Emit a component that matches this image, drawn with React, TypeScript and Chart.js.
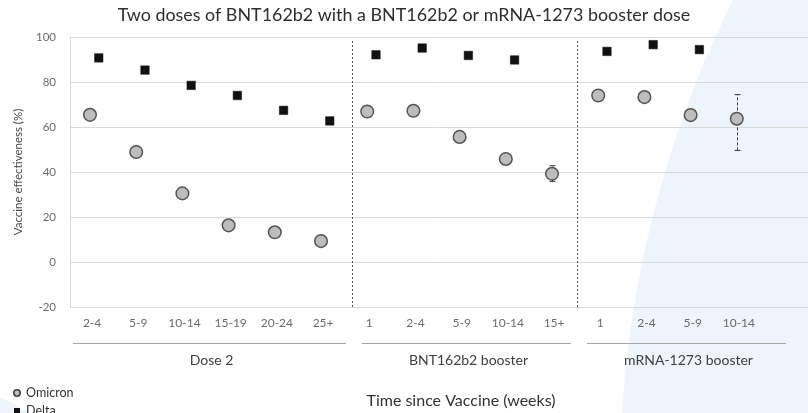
import React, { useEffect, useRef } from 'react';
import { Chart, registerables } from 'chart.js';

Chart.register(...registerables);

// ---------- data ----------
const chartTitle = 'Two doses of BNT162b2 with a BNT162b2 or mRNA-1273 booster dose';
const xTitle = 'Time since Vaccine (weeks)';
const yTitle = 'Vaccine effectiveness (%)';
const seriesNames = ['Omicron', 'Delta'];

const categories = ['2-4', '5-9', '10-14', '15-19', '20-24', '25+', '1', '2-4', '5-9', '10-14', '15+', '1', '2-4', '5-9', '10-14'];
const groupNames = ['Dose 2', 'BNT162b2 booster', 'mRNA-1273 booster'];
const groupSizes = [6, 5, 4];

const omicron = [65.4, 48.9, 30.5, 16.3, 13.2, 9.3, 66.9, 67.2, 55.6, 45.8, 39.2, 74.0, 73.3, 65.3, 63.7];
const omicronLower = [null, null, null, null, null, null, null, null, null, null, 35.8, null, null, null, 49.6];
const omicronUpper = [null, null, null, null, null, null, null, null, null, null, 42.8, null, null, null, 74.4];
const delta = [90.7, 85.3, 78.5, 74.0, 67.4, 62.7, 92.1, 95.1, 91.8, 89.8, null, 93.6, 96.6, 94.4, null];

const yMin = -20;
const yMax = 100;
const yStep = 20;

// ---------- styling ----------
const FONT = 'Lato, "Open Sans", sans-serif';
const TICK_COLOR = '#6b6b6b';
const TEXT_COLOR = '#404040';
const GRID_COLOR = '#d9d9d9';
const CIRCLE_FILL = '#bdbdbd';
const CIRCLE_BORDER = '#555555';
const SQUARE_FILL = '#111111';
const SERIES_SHIFT = 0.095;
const DIVIDER_OFFSETS = [0.576, 0.446];

function groupBounds() {
  const out: { first: number; last: number }[] = [];
  let start = 0;
  groupSizes.forEach((n) => {
    out.push({ first: start, last: start + n - 1 });
    start += n;
  });
  return out;
}

const overlayPlugin = {
  id: 'overlay',
  beforeDatasetsDraw(chart: any) {
    const { ctx, chartArea, scales } = chart;
    const x = scales.x;
    const y = scales.y;
    const groups = groupBounds();
    ctx.save();
    // dividers between groups
    ctx.strokeStyle = '#555555';
    ctx.lineWidth = 1;
    ctx.setLineDash([2, 2]);
    groups.slice(0, -1).forEach((g, gi) => {
      const px = Math.round(x.getPixelForValue(g.last + DIVIDER_OFFSETS[gi])) + 0.5;
      ctx.beginPath();
      ctx.moveTo(px, chartArea.top + 4);
      ctx.lineTo(px, chartArea.bottom);
      ctx.stroke();
    });
    // error bars
    ctx.strokeStyle = '#3a3a3a';
    ctx.setLineDash([3, 2]);
    omicron.forEach((_, i) => {
      const lo = omicronLower[i];
      const hi = omicronUpper[i];
      if (lo == null || hi == null) return;
      const px = Math.round(x.getPixelForValue(i - SERIES_SHIFT)) + 0.5;
      const pLo = y.getPixelForValue(lo);
      const pHi = y.getPixelForValue(hi);
      ctx.beginPath();
      ctx.moveTo(px, pLo);
      ctx.lineTo(px, pHi);
      ctx.stroke();
      ctx.setLineDash([]);
      ctx.beginPath();
      ctx.moveTo(px - 3, pLo);
      ctx.lineTo(px + 3, pLo);
      ctx.moveTo(px - 3, pHi);
      ctx.lineTo(px + 3, pHi);
      ctx.stroke();
      ctx.setLineDash([3, 2]);
    });
    ctx.restore();
  },
  afterDraw(chart: any) {
    const { ctx, chartArea, scales, width } = chart;
    const x = scales.x;
    const groups = groupBounds();
    ctx.save();
    // title
    ctx.fillStyle = '#2e2e2e';
    ctx.font = `17.9px ${FONT}`;
    ctx.textAlign = 'center';
    ctx.textBaseline = 'middle';
    ctx.fillText(chartTitle, width / 2, 15);

    // group lines + labels
    const lineY = chartArea.bottom + 36.5;
    groups.forEach((g, gi) => {
      const startV = gi === 0 ? g.first - 0.463 : groups[gi - 1].last + DIVIDER_OFFSETS[gi - 1] + 0.216;
      const endV = gi === groups.length - 1 ? g.last + 0.97 : g.last + DIVIDER_OFFSETS[gi] - 0.13;
      const x1 = x.getPixelForValue(startV);
      const x2 = x.getPixelForValue(endV);
      ctx.strokeStyle = '#a6a6a6';
      ctx.lineWidth = 1;
      ctx.beginPath();
      ctx.moveTo(x1, lineY);
      ctx.lineTo(x2, lineY);
      ctx.stroke();
      ctx.fillStyle = TEXT_COLOR;
      ctx.font = `14px ${FONT}`;
      ctx.textAlign = 'center';
      ctx.textBaseline = 'middle';
      ctx.fillText(groupNames[gi], (x1 + x2) / 2 + 2, lineY + 17);
    });

    // x title
    ctx.fillStyle = '#333333';
    ctx.font = `16px ${FONT}`;
    ctx.textAlign = 'center';
    ctx.fillText(xTitle, 461, chartArea.bottom + 94);

    // legend
    ctx.font = `12.5px ${FONT}`;
    ctx.textAlign = 'left';
    ctx.fillStyle = CIRCLE_FILL;
    ctx.strokeStyle = '#404040';
    ctx.lineWidth = 1.6;
    ctx.beginPath();
    ctx.arc(17, 393, 3.2, 0, Math.PI * 2);
    ctx.fill();
    ctx.stroke();
    ctx.fillStyle = '#333333';
    ctx.fillText(seriesNames[0], 26, 393);
    ctx.fillStyle = SQUARE_FILL;
    ctx.fillRect(14, 408, 6, 6);
    ctx.fillStyle = '#333333';
    ctx.fillText(seriesNames[1], 26, 411);
    ctx.restore();
  },
};

export default function App() {
  const canvasRef = useRef<HTMLCanvasElement | null>(null);

  useEffect(() => {
    const canvas = canvasRef.current;
    if (!canvas) return;
    const chart = new Chart(canvas, {
      type: 'scatter',
      data: {
        datasets: [
          {
            label: seriesNames[0],
            data: omicron.map((v, i) => ({ x: i - SERIES_SHIFT, y: v })),
            pointStyle: 'circle',
            pointRadius: 6.3,
            pointHoverRadius: 6.3,
            backgroundColor: CIRCLE_FILL,
            borderColor: CIRCLE_BORDER,
            borderWidth: 1.5,
            order: 1,
          },
          {
            label: seriesNames[1],
            data: delta
              .map((v, i) => (v == null ? null : { x: i + SERIES_SHIFT, y: v }))
              .filter((p) => p !== null) as any,
            pointStyle: 'rect',
            pointRadius: 6,
            pointHoverRadius: 6,
            backgroundColor: SQUARE_FILL,
            borderColor: SQUARE_FILL,
            borderWidth: 0.5,
            order: 0,
          },
        ],
      },
      options: {
        animation: false,
        responsive: false,
        events: [],
        layout: { autoPadding: false, padding: { top: 37, right: 0, left: 0, bottom: 0 } },
        plugins: {
          legend: { display: false },
          title: { display: false },
          tooltip: { enabled: false },
        },
        scales: {
          x: {
            type: 'linear',
            min: -0.528,
            max: 15.446,
            grid: { display: false, drawTicks: false },
            border: { display: false },
            afterBuildTicks: (scale: any) => {
              scale.ticks = categories.map((_, i) => ({ value: i - 0.05 }));
            },
            afterFit: (scale: any) => {
              scale.height = 106;
              scale.paddingLeft = 0;
              scale.paddingRight = 0;
            },
            ticks: {
              autoSkip: false,
              maxRotation: 0,
              padding: 9,
              color: TICK_COLOR,
              font: { family: FONT, size: 12 },
              callback: (v: any) => categories[Math.round(Number(v))],
            },
          },
          y: {
            min: yMin,
            max: yMax,
            grid: { color: GRID_COLOR, drawTicks: false, lineWidth: 1 },
            border: { display: true, color: GRID_COLOR },
            afterFit: (scale: any) => {
              scale.width = 70;
            },
            ticks: {
              stepSize: yStep,
              padding: 14,
              color: TICK_COLOR,
              font: { family: FONT, size: 11.5 },
            },
            title: {
              display: true,
              text: yTitle,
              color: '#4a4a4a',
              font: { family: FONT, size: 11.5 },
              padding: { top: 11, bottom: 0 },
            },
          },
        },
      },
      plugins: [overlayPlugin],
    });
    return () => chart.destroy();
  }, []);

  return (
    <div
      style={{
        position: 'fixed',
        left: 0,
        top: 0,
        width: 808,
        height: 413,
        overflow: 'hidden',
        background: '#ffffff',
      }}
    >
      <div
        style={{
          position: 'absolute',
          left: 620,
          top: -596,
          width: 2152,
          height: 2152,
          borderRadius: '50%',
          background: '#edf4fc',
        }}
      />
      <div
        style={{
          position: 'absolute',
          left: -650,
          top: 350,
          width: 900,
          height: 900,
          borderRadius: '50%',
          background: '#edf4fc',
        }}
      />
      <canvas ref={canvasRef} width={808} height={413} style={{ position: 'relative', display: 'block' }} />
    </div>
  );
}
